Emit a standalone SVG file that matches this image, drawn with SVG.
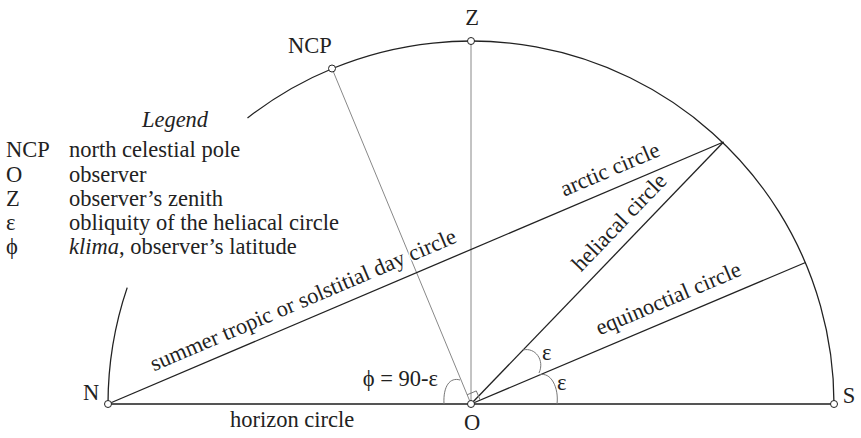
<svg xmlns="http://www.w3.org/2000/svg" width="861" height="438" viewBox="0 0 861 438" font-family="'Liberation Serif', 'Times New Roman', 'DejaVu Serif', serif" font-size="22.5">
<style>
text{font-family:'Liberation Serif','Times New Roman','DejaVu Serif',serif;font-size:22.5px;fill:#222}
.it{font-style:italic}
.blk{stroke:#222;stroke-width:1.3;fill:none}
.gry{stroke:#888;stroke-width:1;fill:none}
.hor{stroke:#555;stroke-width:1.8;fill:none}
.ang{stroke:#777;stroke-width:1;fill:none}
.node{fill:#fff;stroke:#222;stroke-width:1}
.halo{stroke:#fff;stroke-width:3;paint-order:stroke}
</style>
<rect width="861" height="438" fill="#fff"/>
<g id="connectors">
<path class="blk" d="M834 404 A363 363 0 0 0 247.5 118"/>
<path class="blk" d="M127.2 287.6 A363 363 0 0 0 108 404"/>
<line class="gry" x1="471" y1="404" x2="332" y2="68.5"/>
<line class="gry" x1="471" y1="404" x2="471" y2="41"/>
<line class="hor" x1="108" y1="404" x2="834" y2="404"/>
<line class="blk" x1="471" y1="404" x2="723.5" y2="142"/>
<line class="blk" x1="471" y1="404" x2="805.5" y2="262.5"/>
<line class="blk" x1="108" y1="404" x2="723.5" y2="142"/>
<path class="ang" d="M460 380 C450 377 443 386 444 404"/>
<path class="ang" d="M523 350 C535 347 545 360 539 373"/>
<path class="ang" d="M539 375 C551 371 559 388 557 404"/>
<path class="ang" d="M480.2 400.1 L476.3 390.9 L467.1 394.8"/>
</g>
<g id="labels">
<text transform="translate(108 404) rotate(-23.07)" x="55" y="-12" class="halo">summer tropic or solstitial day circle</text>
<text transform="translate(108 404) rotate(-23.07)" x="501" y="-12">arctic circle</text>
<text transform="translate(471 404) rotate(-46.1)" x="171" y="-12">heliacal circle</text>
<text transform="translate(471 404) rotate(-22.93)" x="145" y="-13">equinoctial circle</text>
<text x="230" y="427">horizon circle</text>
<text x="438" y="386" text-anchor="end">ϕ = 90-ε</text>
<text x="542" y="360">ε</text>
<text x="557" y="390">ε</text>
</g>
<g id="legend">
<text x="175" y="127" text-anchor="middle" class="it">Legend</text>
<text x="6" y="157">NCP</text><text x="69" y="157">north celestial pole</text>
<text x="6" y="181.5">O</text><text x="69" y="181.5">observer</text>
<text x="6" y="206">Z</text><text x="69" y="206">observer’s zenith</text>
<text x="6" y="230">ε</text><text x="69" y="230">obliquity of the heliacal circle</text>
<text x="6" y="254">ϕ</text><text x="69" y="254"><tspan class="it">klima</tspan>, observer’s latitude</text>
</g>
<g id="node-N"><circle class="node" cx="108" cy="404" r="3.5"/><text x="91" y="399.5" text-anchor="middle">N</text></g>
<g id="node-NCP"><circle class="node" cx="332" cy="68.5" r="3.5"/><text x="310" y="53" text-anchor="middle">NCP</text></g>
<g id="node-Z"><circle class="node" cx="471" cy="41" r="3.5"/><text x="472" y="25" text-anchor="middle">Z</text></g>
<g id="node-O"><circle class="node" cx="471" cy="404" r="3.5"/><text x="472" y="430" text-anchor="middle">O</text></g>
<g id="node-S"><circle class="node" cx="834" cy="404" r="3.5"/><text x="849" y="403" text-anchor="middle">S</text></g>
</svg>
